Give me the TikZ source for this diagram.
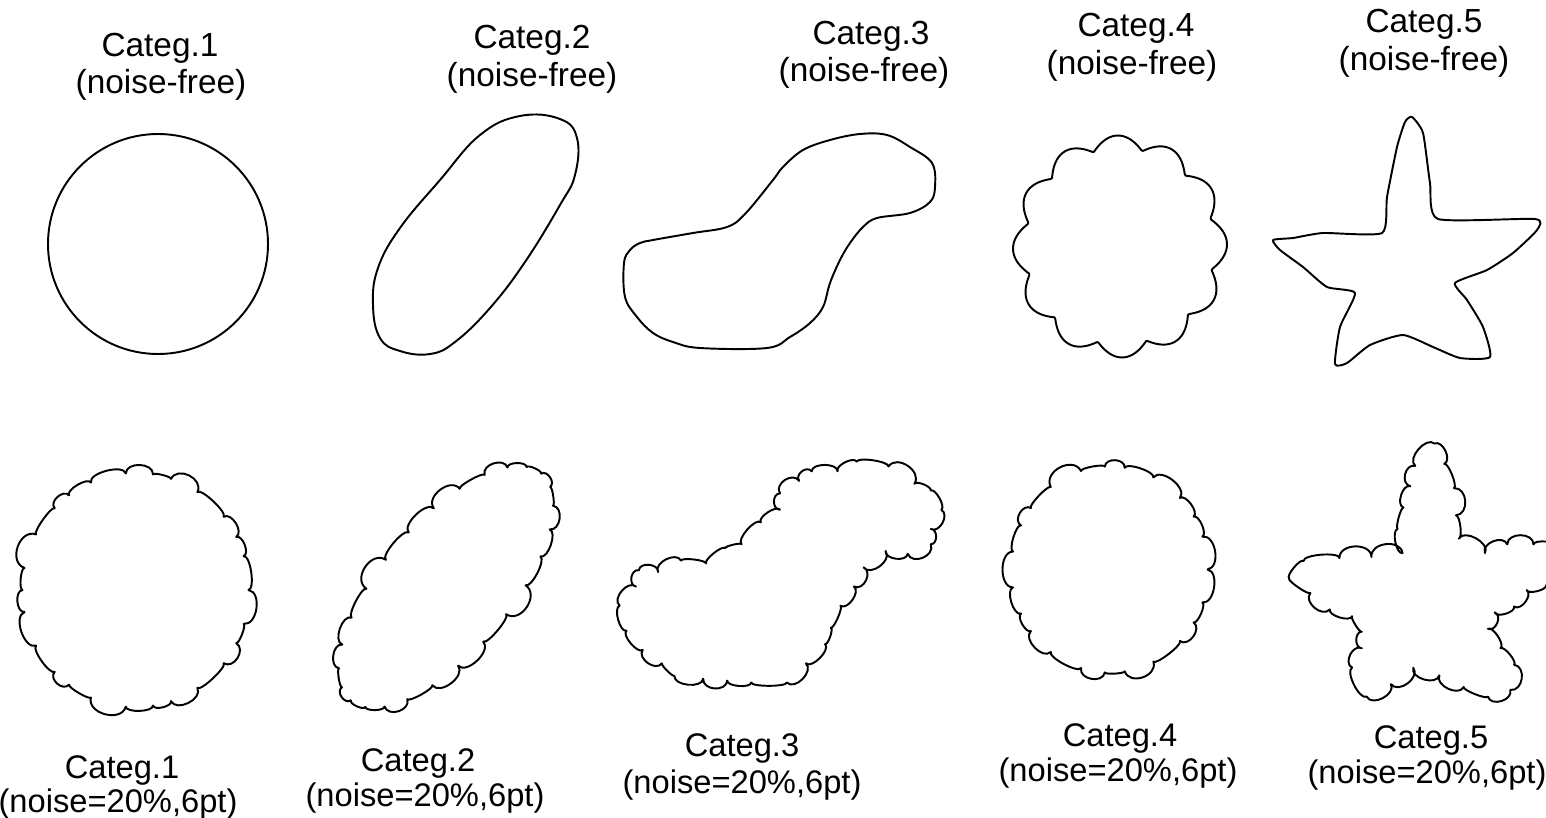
\documentclass[tikz,border=0pt]{standalone}
\usepackage{fontspec}
\setmainfont{Liberation Sans}
\tikzset{
  every picture/.style={line join=round, line cap=round},
  outline/.style={line width=1.1pt},
  bump/.style={bend left=90, looseness=#1},
  cattext/.style={anchor=base, inner sep=0pt, font=\fontsize{19}{22}\selectfont},
  noisetext/.style={anchor=base, inner sep=0pt, font=\fontsize{18.6}{22}\selectfont},
}

\begin{document}
\begin{tikzpicture}[x=0.02cm, y=-0.02cm]
\useasboundingbox (0,0) rectangle (1546,818);
\node[cattext] (cat1) at (160,56) {Categ.1};
\node[cattext] (free1) at (161,93) {(noise-free)};
\node[cattext] (cat2) at (532,49) {Categ.2};
\node[cattext] (free2) at (532,86) {(noise-free)};
\node[cattext] (cat3) at (871,44) {Categ.3};
\node[cattext] (free3) at (864,81) {(noise-free)};
\node[cattext] (cat4) at (1136,36) {Categ.4};
\node[cattext] (free4) at (1132,74) {(noise-free)};
\node[cattext] (cat5) at (1424,32) {Categ.5};
\node[cattext] (free5) at (1424,71) {(noise-free)};

\draw[outline] (158,244) circle[radius=110];
\draw[outline] plot[smooth cycle, tension=0.7] coordinates {(520,116) (560,119) (577,138) (575,175) (560,205) (525,262) (490,308) (455,342) (430,354) (400,351) (380,338) (373,305) (378,268) (400,228) (440,180) (480,135)};
\draw[outline] plot[smooth cycle, tension=0.6] coordinates {(860,134) (887,135) (910,147) (932,163) (935,187) (930,202) (910,213) (877,218) (863,227) (850,243) (840,260) (830,283) (823,307) (810,323) (790,337) (767,348) (700,348) (673,342) (653,333) (637,317) (625,297) (624,263) (630,250) (640,243) (653,240) (693,233) (727,227) (745,214) (773,180) (783,167) (803,150) (830,140)};
\draw[outline] plot[domain=0:360, samples=361, variable=\t] ({1120+(94+13*abs(cos(6*\t+8)))*cos(\t)}, {246.5+(98+13*abs(cos(6*\t+8)))*sin(\t)}) -- cycle;
\draw[outline] plot[smooth cycle, tension=0.35] coordinates {(1412,117) (1423,133) (1430,183) (1438,219) (1535,219) (1537,230) (1513,253) (1487,270) (1455,283) (1467,300) (1483,327) (1490,357) (1460,358) (1433,347) (1403,335) (1370,345) (1347,363) (1335,364) (1340,327) (1355,293) (1327,287) (1303,267) (1280,250) (1273,240) (1293,238) (1323,233) (1382,233) (1387,197) (1397,147) (1405,122)};

\draw[outline] (248.5,590) foreach \i [evaluate=\i as \a using {\i*13.846+3*sin(\i*96.923)}, evaluate=\i as \l using {0.8+0.5*sin(\i*151)}] in {1,...,26} { to[bump=\l] ({135.5+113*cos(\a)}, {590+117*sin(\a)}) } -- cycle;
\draw[outline] ({446+148*cos(50)},{587-148*sin(50)}) foreach \i [evaluate=\i as \a using {\i*13.846}, evaluate=\i as \l using {0.8+0.5*sin(\i*137)}] in {1,...,26} { to[bump=\l] ({446+148*cos(\a)*cos(50)+64*sin(\a)*sin(50)}, {587-148*cos(\a)*sin(50)+64*sin(\a)*cos(50)}) } -- cycle;
\begin{scope}[scale around={0.96:(780,575)}]
\draw[outline] (860,457) foreach \x/\y [evaluate=\x as \l using {0.8+0.5*sin(\x*3+\y*5)}] in {893/462, 920/480, 937/487, 948/507, 937/527, 937/543, 913/553, 890/550, 867/567, 857/587, 843/607, 833/630, 827/647, 807/667, 787/687, 750/687, 725/685, 700/683, 670/680, 657/667, 637/653, 620/633, 613/607, 630/587, 633/570, 653/572, 677/560, 703/563, 723/547, 740/543, 760/520, 780/507, 780/490, 800/477, 813/467, 840/467, 860/457} { to[bump=\l] (\x,\y) } -- cycle;
\end{scope}
\draw[outline] (1207.5,569.5) foreach \i [evaluate=\i as \a using {\i*15.652+3*sin(\i*93.913)}, evaluate=\i as \l using {0.8+0.5*sin(\i*163)}] in {1,...,23} { to[bump=\l] ({1109.5+98*cos(\a)}, {569.5+103*sin(\a)}) } -- cycle;
\begin{scope}[scale around={0.97:(1420,590)}]
\draw[outline] (1435,439) foreach \x/\y [evaluate=\x as \l using {0.8+0.5*sin(\x*3+\y*5)}] in {1445/460, 1455/485, 1457/513, 1460/537, 1487/552, 1510/543, 1537/543, 1562/545, 1568/570, 1550/585, 1530/590, 1517/607, 1497/613, 1490/630, 1503/650, 1517/667, 1513/693, 1490/700, 1465/690, 1440/678, 1413/670, 1390/687, 1365/700, 1350/670, 1360/650, 1360/633, 1350/617, 1327/610, 1307/593, 1285/578, 1300/560, 1337/557, 1370/556, 1402/552, 1397/527, 1403/505, 1410/483, 1415/462, 1435/439} { to[bump=\l] (\x,\y) } -- cycle;
\end{scope}

\node[noisetext] (cat1n) at (122,778) {Categ.1};
\node[noisetext] (noise1) at (118,812) {(noise=20\%,6pt)};
\node[noisetext] (cat2n) at (418,771) {Categ.2};
\node[noisetext] (noise2) at (425,806) {(noise=20\%,6pt)};
\node[noisetext] (cat3n) at (742,756) {Categ.3};
\node[noisetext] (noise3) at (742,793) {(noise=20\%,6pt)};
\node[noisetext] (cat4n) at (1120,746) {Categ.4};
\node[noisetext] (noise4) at (1118,781) {(noise=20\%,6pt)};
\node[noisetext] (cat5n) at (1431,748) {Categ.5};
\node[noisetext] (noise5) at (1427,783) {(noise=20\%,6pt)};
\end{tikzpicture}
\end{document}
